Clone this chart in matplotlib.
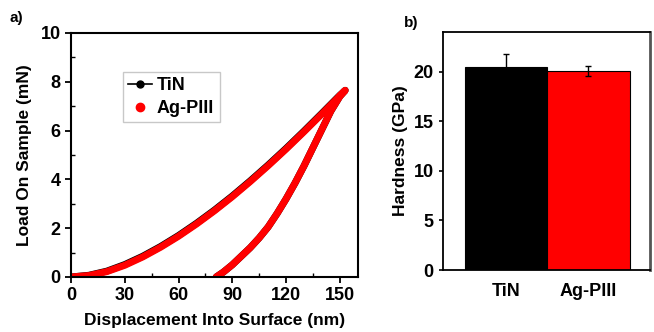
#-------------------------------------------------------------------------------
# Nanoindentation load-displacement curves and hardness bars
#-------------------------------------------------------------------------------
import matplotlib
matplotlib.use("Agg")
import matplotlib.pyplot as plt
from matplotlib.ticker import MultipleLocator

plt.rcParams['font.family'] = ['Liberation Sans', 'DejaVu Sans']
plt.rcParams['font.weight'] = 'bold'

#-------------------------------------------------------------------------------
# Data
#-------------------------------------------------------------------------------
# loading branch (nm, mN)
load_disp = [0, 10, 20, 30, 40, 50, 60, 70, 80, 90, 100, 110, 120, 130, 140, 150, 153]
load_tin = [0, 0.07, 0.24, 0.51, 0.85, 1.25, 1.70, 2.20, 2.74, 3.32, 3.94, 4.59, 5.27, 5.98, 6.71, 7.45, 7.65]
load_ag = [0, 0.06, 0.22, 0.48, 0.82, 1.22, 1.67, 2.17, 2.71, 3.29, 3.91, 4.56, 5.24, 5.95, 6.68, 7.43, 7.65]
# unloading branch
unload_disp = [153, 150, 145, 140, 135, 130, 125, 120, 115, 110, 105, 100, 95, 90, 85, 81]
unload_tin = [7.65, 7.4, 6.8, 6.05, 5.3, 4.55, 3.85, 3.2, 2.6, 2.05, 1.6, 1.2, 0.85, 0.5, 0.2, 0]
unload_ag = [7.65, 7.4, 6.8, 6.05, 5.3, 4.55, 3.85, 3.2, 2.6, 2.05, 1.6, 1.2, 0.85, 0.5, 0.2, 0]

samples = ['TiN', 'Ag-PIII']
hardness = [20.5, 20.1]
hardness_err = [1.3, 0.5]
bar_colors = ['black', 'red']

#-------------------------------------------------------------------------------
# Figure
#-------------------------------------------------------------------------------
fig = plt.figure(figsize=(6.54, 3.32), dpi=100)
ax1 = fig.add_axes([0.1086, 0.1657, 0.4384, 0.735])
ax2 = fig.add_axes([0.677, 0.1867, 0.317, 0.717])

# a) load vs displacement
ax1.plot(load_disp + unload_disp, load_tin + unload_tin, color='black', lw=5,
         solid_joinstyle='round', solid_capstyle='round', label='TiN')
ax1.plot(load_disp + unload_disp, load_ag + unload_ag, color='red', lw=5,
         solid_joinstyle='round', solid_capstyle='round', label='Ag-PIII')
ax1.set_xlim(0, 160)
ax1.set_ylim(0, 10)
ax1.xaxis.set_major_locator(MultipleLocator(30))
ax1.xaxis.set_minor_locator(MultipleLocator(15))
ax1.yaxis.set_major_locator(MultipleLocator(2))
ax1.yaxis.set_minor_locator(MultipleLocator(1))
ax1.tick_params(which='major', direction='out', length=4, width=1.3, labelsize=13)
ax1.tick_params(which='minor', direction='in', length=3, width=1.0)
ax1.set_xlabel('Displacement Into Surface (nm)', fontsize=12.5, fontweight='bold', labelpad=6)
ax1.set_ylabel('Load On Sample (mN)', fontsize=12.5, fontweight='bold', labelpad=6)
for s in ax1.spines.values():
    s.set_linewidth(1.5)

# legend handles: line with dot for TiN, dot for Ag-PIII
h1, = ax1.plot([], [], color='black', lw=1.2, marker='o', ms=5)
h2, = ax1.plot([], [], color='red', lw=0, marker='o', ms=6)
leg = ax1.legend([h1, h2], samples, loc='upper left', bbox_to_anchor=(0.18, 0.84),
                 fontsize=13, frameon=True, fancybox=False, edgecolor='#bbbbbb',
                 handlelength=1.3, handletextpad=0.3, borderpad=0.3,
                 labelspacing=0.3, borderaxespad=0)

# b) hardness bars
x = [1, 2]
ax2.bar(x, hardness, width=1.0, color=bar_colors, edgecolor='black', linewidth=0.8,
        yerr=hardness_err, error_kw=dict(ecolor='black', elinewidth=1, capsize=2, capthick=1))
ax2.set_xlim(0.23, 2.75)
ax2.set_ylim(0, 24)
ax2.set_xticks(x)
ax2.set_xticklabels(samples)
ax2.yaxis.set_major_locator(MultipleLocator(5))
ax2.tick_params(axis='x', length=0, labelsize=13, pad=9)
ax2.tick_params(axis='y', direction='out', length=3, width=1.2, labelsize=13)
ax2.set_ylabel('Hardness (GPa)', fontsize=12.5, fontweight='bold')
for s in ax2.spines.values():
    s.set_linewidth(1.3)
ax2.spines['right'].set_color('#555555')
ax2.spines['right'].set_linewidth(2)

# panel labels
fig.text(0.015, 0.935, 'a)', fontsize=11, fontweight='bold')
fig.text(0.617, 0.92, 'b)', fontsize=11, fontweight='bold')

fig.savefig('out.png', dpi=100)
